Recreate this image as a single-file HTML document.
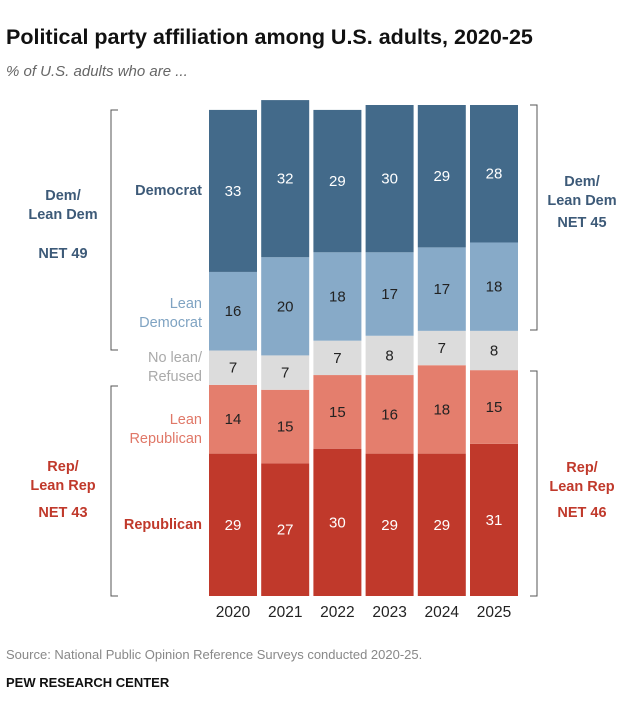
<!DOCTYPE html>
<html><head><meta charset="utf-8"><style>
body{margin:0;background:#fff;font-family:"Liberation Sans",sans-serif;}
svg text{font-family:"Liberation Sans",sans-serif;}
</style></head><body>
<svg width="640" height="718" viewBox="0 0 640 718">
<text x="6" y="44" font-size="21.5" font-weight="bold" fill="#111">Political party affiliation among U.S. adults, 2020-25</text>
<text x="6" y="76" font-size="15" font-style="italic" fill="#666" font-family="Liberation Serif">% of U.S. adults who are ...</text>
<g id="bars"></g>
<g id="years"></g>
<g font-size="14.5" text-anchor="end">
<text x="202" y="195" fill="#3d5a78" font-weight="bold">Democrat</text>
<text x="202" y="308" fill="#7fa3c2">Lean</text>
<text x="202" y="327" fill="#7fa3c2">Democrat</text>
<text x="202" y="362" fill="#aaa">No lean/</text>
<text x="202" y="381" fill="#aaa">Refused</text>
<text x="202" y="424" fill="#e07868">Lean</text>
<text x="202" y="443" fill="#e07868">Republican</text>
<text x="202" y="529" fill="#c0392b" font-weight="bold">Republican</text>
</g>
<g font-size="14.5" font-weight="bold" text-anchor="middle">
<text x="63" y="200" fill="#3d5a78">Dem/</text>
<text x="63" y="219" fill="#3d5a78">Lean Dem</text>
<text x="63" y="258" fill="#3d5a78">NET 49</text>
<text x="63" y="471" fill="#c0392b">Rep/</text>
<text x="63" y="490" fill="#c0392b">Lean Rep</text>
<text x="63" y="517" fill="#c0392b">NET 43</text>
<text x="582" y="186" fill="#3d5a78">Dem/</text>
<text x="582" y="205" fill="#3d5a78">Lean Dem</text>
<text x="582" y="227" fill="#3d5a78">NET 45</text>
<text x="582" y="472" fill="#c0392b">Rep/</text>
<text x="582" y="491" fill="#c0392b">Lean Rep</text>
<text x="582" y="517" fill="#c0392b">NET 46</text>
</g>
<g fill="none" stroke="#555" stroke-width="1">
<path d="M118,110 H111 V350 H118"/>
<path d="M118,386 H111 V596 H118"/>
<path d="M530,105 H537 V330 H530"/>
<path d="M530,371 H537 V596 H530"/>
</g>
<text x="6" y="659" font-size="13" fill="#888">Source: National Public Opinion Reference Surveys conducted 2020-25.</text>
<text x="6" y="687" font-size="13" font-weight="bold" fill="#111">PEW RESEARCH CENTER</text>
</svg>
<script>
const years=["2020","2021","2022","2023","2024","2025"];
const republican=[29,27,30,29,29,31];
const leanRep=[14,15,15,16,18,15];
const noLean=[7,7,7,8,7,8];
const leanDem=[16,20,18,17,17,18];
const democrat=[33,32,29,30,29,28];
const series=[
 {v:republican,c:"#c0392b",t:"#fff",n:"republican"},
 {v:leanRep,c:"#e47e6d",t:"#222",n:"lean-republican"},
 {v:noLean,c:"#dcdcdc",t:"#222",n:"no-lean"},
 {v:leanDem,c:"#87aac8",t:"#222",n:"lean-democrat"},
 {v:democrat,c:"#436a8a",t:"#fff",n:"democrat"}];
const base=596,unit=4.91,x0=209,step=52.2,bw=48;
const y=v=>v*unit;
const NS="http://www.w3.org/2000/svg";
const g=document.getElementById('bars'),gy=document.getElementById('years');
years.forEach((yr,i)=>{
 let cum=0;const x=x0+i*step;
 series.forEach(s=>{
  const h=y(s.v[i]);const top=base-y(cum)-h;
  const r=document.createElementNS(NS,'rect');
  r.setAttribute('x',x);r.setAttribute('y',top);r.setAttribute('width',bw);r.setAttribute('height',h);r.setAttribute('fill',s.c);
  
  
  g.appendChild(r);
  const t=document.createElementNS(NS,'text');
  t.setAttribute('x',x+bw/2);t.setAttribute('y',top+h/2+5);t.setAttribute('text-anchor','middle');t.setAttribute('font-size','15');t.setAttribute('fill',s.t);
  t.textContent=s.v[i];
  
  
  g.appendChild(t);
  cum+=s.v[i];
 });
 const t=document.createElementNS(NS,'text');
 t.setAttribute('x',x+bw/2);t.setAttribute('y',617);t.setAttribute('text-anchor','middle');t.setAttribute('font-size','15.5');t.setAttribute('fill','#222');
 t.textContent=yr;
 
 
 gy.appendChild(t);
});
</script>
</body></html>
